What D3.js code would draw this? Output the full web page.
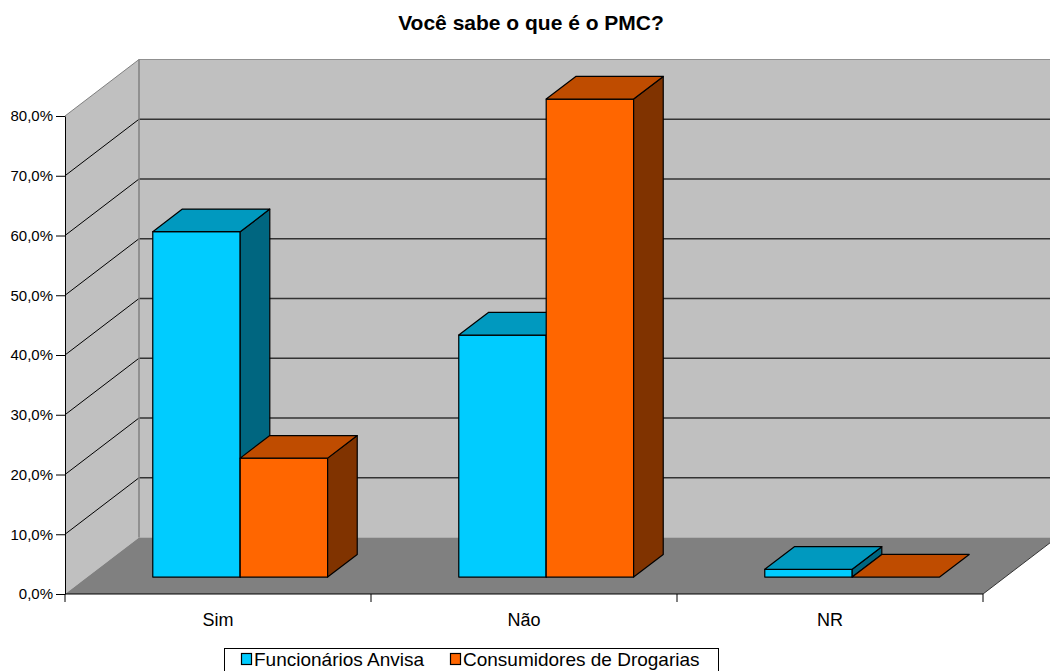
<!DOCTYPE html>
<html>
<head>
<meta charset="utf-8">
<script src="https://cdn.jsdelivr.net/npm/d3@7"></script>
<style>
  body { margin: 0; background: #fff; }
  svg { display: block; font-family: "Liberation Sans", Arial, sans-serif; }
</style>
</head>
<body>
<div id="chart"></div>
<script>
const categories = ["Sim", "Não", "NR"];
const seriesNames = ["Funcionários Anvisa", "Consumidores de Drogarias"];
const anvisaValues = [57.8, 40.5, 1.3];
const consumidoresValues = [19.9, 80.0, 0];
const yTicks = [0, 10, 20, 30, 40, 50, 60, 70, 80];

const width = 1050, height = 671;

// colours per series: front, top, side
const palette = {
    "Funcionários Anvisa": { front: "#00CCFF", top: "#0099BF", side: "#006680" },
    "Consumidores de Drogarias": { front: "#FF6600", top: "#BF4C00", side: "#803300" }
};

const svg = d3.select("#chart").append("svg")
    .attr("width", width)
    .attr("height", height);

// front plane scales
const x = d3.scaleBand().domain(categories).range([65, 983]);
const xSub = d3.scaleBand().domain(seriesNames).range([0, x.bandwidth()]).paddingOuter(0.75);
const y = d3.scaleLinear().domain([0, 80]).range([594, 116]);

// depth of the floor / walls
const DX = 74, DY = 56.5;
const depth0 = 0.3, depth1 = 0.7;

const fmt = d3.formatLocale({ decimal: ",", thousands: ".", grouping: [3], currency: ["R$", ""] }).format(".1f");

// title
svg.append("text")
    .attr("x", 531)
    .attr("y", 30)
    .attr("text-anchor", "middle")
    .attr("font-size", "21px")
    .attr("font-weight", "bold")
    .text("Você sabe o que é o PMC?");

const [x0, x1] = x.range();
const yBase = y(0), yTop = y(80);

// back wall
svg.append("rect")
    .attr("x", x0 + DX).attr("y", yTop - DY)
    .attr("width", x1 - x0).attr("height", yBase - yTop)
    .attr("fill", "#C0C0C0");

// left wall
svg.append("path")
    .attr("d", `M${x0},${yBase}L${x0},${yTop}L${x0 + DX},${yTop - DY}L${x0 + DX},${yBase - DY}Z`)
    .attr("fill", "#C0C0C0");

// floor
svg.append("path")
    .attr("d", `M${x0},${yBase}L${x1},${yBase}L${x1 + DX},${yBase - DY}L${x0 + DX},${yBase - DY}Z`)
    .attr("fill", "#808080");
svg.append("line")
    .attr("x1", x1).attr("y1", yBase).attr("x2", x1 + DX).attr("y2", yBase - DY)
    .attr("stroke", "#333").attr("stroke-width", 1);

// gridlines
yTicks.filter(t => t > 0).forEach(t => {
    const isTop = t === 80;
    svg.append("line")
        .attr("x1", x0).attr("y1", y(t))
        .attr("x2", x0 + DX).attr("y2", y(t) - DY)
        .attr("stroke", isTop ? "#808080" : "#000")
        .attr("stroke-width", 1);
    svg.append("line")
        .attr("x1", x0 + DX).attr("y1", y(t) - DY)
        .attr("x2", x1 + DX).attr("y2", y(t) - DY)
        .attr("stroke", isTop ? "#909090" : "#333")
        .attr("stroke-width", isTop ? 1 : 1.4);
});
svg.append("line")
    .attr("x1", x0 + DX).attr("y1", yTop - DY)
    .attr("x2", x0 + DX).attr("y2", yBase - DY)
    .attr("stroke", "#808080").attr("stroke-width", 1.5);

// bars, drawn left to right
const rows = [];
categories.forEach((c, i) => {
    rows.push({ cat: c, series: seriesNames[0], value: anvisaValues[i] });
    rows.push({ cat: c, series: seriesNames[1], value: consumidoresValues[i] });
});

const barG = svg.append("g")
    .attr("stroke", "#000")
    .attr("stroke-width", 1.2)
    .attr("stroke-linejoin", "round");

rows.forEach(d => {
    const c = palette[d.series];
    const bx0 = x(d.cat) + xSub(d.series) + depth0 * DX;
    const bx1 = bx0 + xSub.bandwidth();
    const by0 = y(0) - depth0 * DY;
    const by1 = y(d.value) - depth0 * DY;
    const ddx = (depth1 - depth0) * DX;
    const ddy = (depth1 - depth0) * DY;

    if (d.value > 0) {
        barG.append("path")
            .attr("d", `M${bx0},${by0}L${bx0},${by1}L${bx1},${by1}L${bx1},${by0}Z`)
            .attr("fill", c.front);
        barG.append("path")
            .attr("d", `M${bx1},${by0}L${bx1},${by1}L${bx1 + ddx},${by1 - ddy}L${bx1 + ddx},${by0 - ddy}Z`)
            .attr("fill", c.side);
    }
    barG.append("path")
        .attr("d", `M${bx0},${by1}L${bx1},${by1}L${bx1 + ddx},${by1 - ddy}L${bx0 + ddx},${by1 - ddy}Z`)
        .attr("fill", c.top);
});

// y axis
const yAxis = d3.axisLeft(y)
    .tickValues(yTicks)
    .tickSize(9)
    .tickSizeOuter(0)
    .tickPadding(3)
    .tickFormat(d => fmt(d) + "%");

svg.append("g")
    .attr("transform", `translate(${x0},0)`)
    .call(yAxis)
    .call(g => g.selectAll("text").attr("font-size", "15px").attr("fill", "#000").attr("font-family", null))
    .call(g => g.selectAll("line, path").attr("stroke", "#000"));

// x axis (ticks at category boundaries)
svg.append("line")
    .attr("x1", x0).attr("y1", yBase).attr("x2", x1).attr("y2", yBase)
    .attr("stroke", "#000");
const bounds = categories.map(c => x(c)).concat([x1]);
svg.append("g").selectAll("line")
    .data(bounds)
    .enter().append("line")
    .attr("x1", d => d).attr("x2", d => d)
    .attr("y1", yBase).attr("y2", yBase + 8)
    .attr("stroke", "#000");
svg.append("g").selectAll("text")
    .data(categories)
    .enter().append("text")
    .attr("x", d => x(d) + x.bandwidth() / 2)
    .attr("y", 626)
    .attr("text-anchor", "middle")
    .attr("font-size", "18px")
    .text(d => d);

// legend
const legend = svg.append("g");
legend.append("rect")
    .attr("x", 224.5).attr("y", 648.5)
    .attr("width", 494).attr("height", 30)
    .attr("fill", "#fff").attr("stroke", "#000");
const legendX = [241, 450];
seriesNames.forEach((s, i) => {
    legend.append("rect")
        .attr("x", legendX[i] + 0.5).attr("y", 653.5)
        .attr("width", 10).attr("height", 11)
        .attr("fill", palette[s].front)
        .attr("stroke", "#000").attr("stroke-width", 1.2);
    legend.append("text")
        .attr("x", legendX[i] + 13)
        .attr("y", 666)
        .attr("font-size", "19px")
        .text(s);
});
</script>
</body>
</html>
